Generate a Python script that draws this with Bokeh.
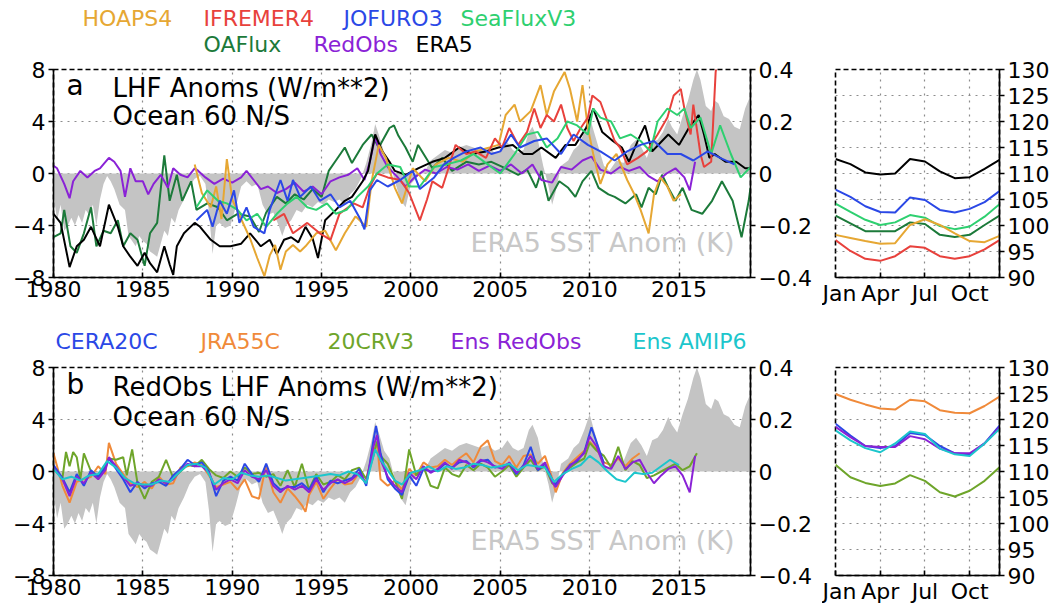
from bokeh.plotting import figure
from bokeh.models import Range1d, LinearAxis, FixedTicker, CustomJSTickFormatter, Label, ColumnDataSource
from bokeh.core.properties import value
from bokeh.layouts import row, column
from bokeh.embed import file_html
from bokeh.resources import INLINE

FONT = "DejaVu Sans"

# ---------------- data ----------------
sst_year = [1980.0, 1980.2, 1980.4, 1980.6, 1980.8, 1981.0, 1981.2, 1981.4, 1981.6, 1981.8, 1982.0, 1982.2,
            1982.4, 1982.6, 1982.8, 1983.0, 1983.2, 1983.4, 1983.7, 1984.0, 1984.2, 1984.4, 1984.6, 1984.8,
            1985.0, 1985.2, 1985.4, 1985.6, 1985.8, 1986.0, 1986.2, 1986.4, 1986.6, 1986.8, 1987.0, 1987.3,
            1987.6, 1987.9, 1988.2, 1988.5, 1988.7, 1988.9, 1989.1, 1989.3, 1989.6, 1989.9, 1990.2, 1990.5,
            1990.8, 1991.1, 1991.4, 1991.7, 1992.0, 1992.3, 1992.6, 1992.8, 1993.0, 1993.3, 1993.6, 1993.9,
            1994.2, 1994.5, 1994.8, 1995.1, 1995.4, 1995.7, 1996.0, 1996.3, 1996.6, 1996.9, 1997.2, 1997.5,
            1997.8, 1998.0, 1998.2, 1998.5, 1998.8, 1999.1, 1999.4, 1999.7, 2000.0, 2000.4, 2000.8, 2001.1,
            2001.5, 2001.9, 2002.3, 2002.7, 2003.1, 2003.5, 2003.9, 2004.3, 2004.7, 2005.1, 2005.4, 2005.7,
            2006.0, 2006.3, 2006.6, 2006.8, 2007.1, 2007.4, 2007.7, 2007.9, 2008.1, 2008.4, 2008.8, 2009.1,
            2009.4, 2009.7, 2010.0, 2010.2, 2010.5, 2010.8, 2011.1, 2011.5, 2011.9, 2012.3, 2012.6, 2012.9,
            2013.2, 2013.5, 2013.8, 2014.1, 2014.4, 2014.6, 2014.9, 2015.2, 2015.5, 2015.8, 2016.0, 2016.2,
            2016.5, 2016.8, 2017.0, 2017.2, 2017.5, 2017.8, 2018.1, 2018.4, 2018.7, 2019.0]
sst_anom = [-0.08, -0.18, -0.12, -0.22, -0.2, -0.17, -0.2, -0.16, -0.19, -0.14, -0.16, -0.12,
            -0.2, -0.1, -0.04, -0.01, -0.03, -0.06, -0.12, -0.14, -0.24, -0.26, -0.28, -0.24,
            -0.26, -0.27, -0.3, -0.31, -0.32, -0.27, -0.22, -0.24, -0.17, -0.19, -0.14, -0.1,
            -0.05, -0.02, -0.01, -0.04, -0.15, -0.31, -0.2, -0.19, -0.21, -0.2, -0.13, -0.05,
            -0.03, -0.05, -0.04, -0.12, -0.16, -0.15, -0.2, -0.24, -0.2, -0.18, -0.14, -0.15,
            -0.12, -0.13, -0.11, -0.12, -0.1, -0.11, -0.1, -0.12, -0.08, -0.06, -0.02, 0.04,
            0.12, 0.19, 0.15, 0.08, 0.05, -0.03, -0.1, -0.13, -0.04, -0.01, 0.01, 0.05,
            0.07, 0.09, 0.08, 0.1, 0.11, 0.1, 0.09, 0.1, 0.08, 0.09, 0.12, 0.09,
            0.08, 0.09, 0.16, 0.18, 0.13, 0.03, -0.05, -0.12, -0.07, 0.03, 0.05, 0.09,
            0.11, 0.16, 0.22, 0.17, 0.1, 0.03, 0.01, 0.05, 0.04, 0.11, 0.13, 0.1,
            0.06, 0.12, 0.13, 0.16, 0.21, 0.18, 0.15, 0.22, 0.28, 0.36, 0.4, 0.36,
            0.26, 0.24, 0.28, 0.27, 0.22, 0.21, 0.18, 0.17, 0.25, 0.3]

era5_year = [1980.0, 1980.4, 1980.9, 1981.3, 1981.7, 1982.1, 1982.6, 1983.1, 1983.6, 1983.9, 1984.3, 1984.7,
             1985.1, 1985.4, 1985.8, 1986.2, 1986.5, 1986.7, 1986.9, 1987.3, 1987.9, 1988.2, 1988.8, 1989.3,
             1989.9, 1990.5, 1991.0, 1991.6, 1992.1, 1992.5, 1992.9, 1993.3, 1993.7, 1994.1, 1994.5, 1994.8,
             1995.2, 1995.8, 1996.3, 1996.7, 1997.3, 1997.6, 1998.0, 1998.4, 1998.8, 1999.1, 1999.7, 2000.4,
             2001.2, 2001.9, 2002.7, 2003.4, 2004.2, 2004.9, 2005.7, 2006.3, 2006.8, 2007.3, 2008.1, 2008.65,
             2009.2, 2009.8, 2010.2, 2010.7, 2011.3, 2011.8, 2012.2, 2012.75, 2013.1, 2013.5, 2014.05, 2014.4,
             2015.0, 2015.55, 2016.1, 2016.4, 2016.7, 2017.0, 2017.6, 2018.2, 2018.7, 2019.0]
era5 = [-3.1, -3.8, -7.2, -5.6, -5.1, -4.1, -5.6, -2.4, -4.1, -5.6, -6.4, -7.1,
        -6.1, -6.9, -7.6, -5.6, -7.0, -7.8, -5.6, -4.6, -3.8, -4.1, -5.1, -5.6,
        -5.6, -5.4, -4.6, -5.6, -5.1, -6.2, -5.1, -4.9, -5.3, -4.1, -5.0, -6.5,
        -3.6, -2.8, -2.1, -1.8, -0.6, 0.2, 3.0, 1.7, 0.9, 0.2, -0.1, 0.4,
        0.9, 1.2, 2.0, 1.5, 1.7, 2.0, 2.2, 1.5, 1.5, 2.0, 1.2, 2.2,
        2.2, 3.5, 5.0, 3.2, 2.5, 2.0, 0.9, 2.7, 3.7, 1.7, 2.5, 3.0,
        2.2, 3.5, 4.5, 3.0, 1.2, 1.5, 0.9, 0.9, 0.4, 0.4]

oaflux_year = [1980.0, 1980.4, 1980.6, 1980.95, 1981.3, 1981.7, 1982.1, 1982.4, 1982.8, 1983.2, 1983.6, 1983.9,
               1984.3, 1984.7, 1985.1, 1985.4, 1985.8, 1986.2, 1986.5, 1986.9, 1987.2, 1987.7, 1988.0, 1988.6,
               1989.2, 1989.7, 1990.3, 1991.0, 1991.5, 1991.9, 1992.5, 1993.0, 1993.5, 1994.0, 1994.5, 1995.0,
               1995.4, 1995.8, 1996.3, 1996.7, 1997.3, 1997.8, 1998.2, 1998.8, 1999.05, 1999.3, 1999.7, 2000.1,
               2000.4, 2001.2, 2001.75, 2002.3, 2003.1, 2003.8, 2004.5, 2005.3, 2006.0, 2006.5, 2007.0, 2007.3,
               2007.7, 2008.3, 2008.8, 2009.2, 2009.6, 2010.1, 2010.5, 2011.05, 2011.4, 2012.0, 2012.6, 2012.9,
               2013.3, 2013.7, 2014.05, 2014.4, 2014.8, 2015.2, 2015.7, 2016.3, 2016.85, 2017.4, 2018.0, 2018.5,
               2018.9, 2019.0]
oaflux = [-4.9, -4.6, -2.8, -5.6, -6.1, -4.6, -2.6, -5.6, -4.4, -4.6, -3.6, -5.6,
          -4.6, -5.1, -7.1, -4.6, -3.8, 1.4, -2.1, -0.1, -2.1, -0.6, -2.8, -2.3,
          -2.6, -3.6, -3.1, -3.3, -4.5, -3.0, -1.8, -2.3, -1.6, -2.0, -1.2, -1.8,
          0.2, 1.0, 2.0, 0.8, 2.2, 3.0, 2.0, 3.5, 3.7, 2.9, 2.0, 0.9,
          2.2, 0.4, 1.2, 0.2, 0.9, 0.7, 0.9, 0.4, -0.1, 0.3, -1.1, 0.2,
          -2.1, -0.6, -1.1, -1.8, -0.6, 0.2, -1.1, -1.6, -1.8, -2.3, -1.6, -2.6,
          -1.1, -1.6, -0.1, -1.1, -2.1, -1.1, -2.8, -3.1, -2.1, -0.6, -2.1, -4.9,
          -2.1, -1.1]

hoaps_year = [1987.9, 1988.3, 1988.8, 1989.1, 1989.4, 1989.7, 1990.0, 1990.5, 1991.0, 1991.4, 1991.8, 1992.1,
              1992.4, 1992.7, 1993.0, 1993.4, 1993.8, 1994.1, 1994.7, 1995.2, 1995.8, 1996.3, 1996.9, 1997.5,
              1997.8, 1998.2, 1998.6, 1999.1, 1999.5, 2000.1, 2000.8, 2001.4, 2002.1, 2002.9, 2003.6, 2004.4,
              2004.9, 2005.3, 2005.8, 2006.1, 2006.7, 2007.25, 2007.6, 2008.0, 2008.6, 2008.9, 2009.3, 2009.6,
              2009.9, 2010.2, 2010.6, 2011.0, 2011.5, 2012.1, 2012.5, 2012.85, 2013.3, 2013.6, 2013.95, 2014.35,
              2014.7, 2015.1]
hoaps = [0.7, -1.5, -2.6, -1.0, -3.5, 1.1, -2.0, -3.5, -5.0, -6.5, -7.9, -6.3,
         -5.5, -7.4, -6.0, -5.5, -6.0, -5.6, -4.6, -4.4, -5.9, -4.6, -3.3, -4.1,
         -0.6, 2.2, 1.2, -1.1, -2.3, 0.4, -0.6, 0.7, 1.2, 0.9, 1.7, 2.0,
         2.2, 4.5, 5.3, 4.0, 4.8, 6.8, 4.5, 6.3, 7.8, 6.5, 4.0, 6.8,
         3.5, 1.5, -0.8, 0.7, 1.5, -0.5, -1.6, -2.8, -4.6, -1.6, -0.3, -1.0,
         -2.1, -1.6]

ifremer_year = [1992.3, 1992.9, 1993.4, 1994.2, 1994.9, 1995.5, 1996.0, 1996.8, 1997.3, 1997.7, 1998.1, 1998.7,
                1999.4, 1999.9, 2000.5, 2000.9, 2001.2, 2001.75, 2002.1, 2002.5, 2003.1, 2003.6, 2004.2, 2004.7,
                2005.1, 2005.5, 2006.0, 2006.5, 2006.9, 2007.25, 2007.6, 2008.0, 2008.4, 2008.75, 2009.1, 2009.5,
                2009.9, 2010.15, 2010.6, 2011.0, 2011.4, 2011.7, 2012.1, 2012.7, 2013.2, 2013.8, 2014.35, 2014.7,
                2015.1, 2015.3, 2015.65, 2015.8, 2016.2, 2016.4, 2016.8, 2017.05, 2017.25]
ifremer = [-3.6, -3.1, -4.6, -3.8, -4.6, -5.1, -3.1, -2.3, -2.6, -1.0, 0.0, -0.3,
           -0.5, -1.5, -3.6, -2.0, -0.6, -1.1, 0.4, 2.2, 1.5, 1.7, 1.2, 2.7,
           2.0, 3.5, 2.2, 3.2, 5.0, 3.5, 4.5, 4.0, 5.3, 3.5, 2.5, 3.5,
           4.3, 6.0, 5.5, 4.0, 2.5, 2.0, 0.7, 1.2, 1.7, 3.0, 4.3, 6.0,
           6.5, 5.0, 3.0, 5.3, 1.5, 0.5, 0.9, 7.8, 9.5]

jofuro_year = [1988.0, 1988.6, 1988.9, 1989.3, 1989.7, 1990.1, 1990.4, 1990.8, 1991.2, 1991.8, 1992.1, 1992.7,
               1993.1, 1993.4, 1993.8, 1994.4, 1994.9, 1995.5, 1996.0, 1996.6, 1997.2, 1997.4, 1997.7, 1998.1,
               1998.7, 1999.4, 2000.1, 2000.5, 2001.3, 2001.85, 2002.4, 2003.1, 2003.9, 2004.5, 2005.0, 2005.6,
               2006.1, 2006.9, 2007.6, 2008.4, 2009.1, 2009.9, 2010.6, 2011.4, 2012.1, 2012.85, 2013.6, 2014.35,
               2015.1, 2015.8, 2016.6, 2017.3, 2018.1]
jofuro = [-3.6, -2.8, -4.1, -2.1, -3.1, -1.3, -3.8, -2.6, -4.1, -4.6, -2.8, -0.5,
          -2.1, -0.5, -1.8, -1.0, -2.1, -1.6, -2.6, -2.1, -3.6, -4.3, -1.3, -0.5,
          -1.0, -0.5, 0.2, -1.2, -0.3, 0.7, 1.2, 1.7, 2.0, 1.5, 1.7, 3.0,
          2.0, 2.5, 2.7, 1.5, 3.0, 2.2, 1.7, 1.0, 1.7, 2.2, 2.5, 1.5,
          1.5, 1.0, 1.7, 1.2, 0.7]

seaflux_year = [1988.0, 1988.6, 1989.2, 1989.7, 1990.3, 1990.8, 1991.4, 1991.9, 1992.5, 1993.1, 1993.6, 1994.2,
                1994.7, 1995.3, 1995.8, 1996.4, 1997.0, 1997.6, 1998.1, 1998.7, 1999.4, 1999.9, 2000.5, 2001.3,
                2002.0, 2002.8, 2003.5, 2004.3, 2005.0, 2005.8, 2006.5, 2007.1, 2007.6, 2008.2, 2008.75, 2009.3,
                2009.9, 2010.2, 2010.6, 2011.2, 2011.7, 2012.3, 2012.85, 2013.4, 2013.8, 2014.35, 2014.9, 2015.3,
                2015.65, 2016.2, 2016.8, 2017.3, 2017.9, 2018.45, 2019.0]
seaflux = [-2.6, -1.3, -2.1, -2.3, -2.8, -3.6, -3.1, -4.1, -3.1, -2.3, -1.8, -2.6,
           -2.8, -2.3, -3.1, -2.8, -1.8, -1.0, 0.0, 0.7, 0.5, -1.0, -1.0, 0.5,
           0.7, 1.0, 1.5, 0.7, 0.0, 1.5, 3.0, 3.2, 2.0, 2.7, 4.0, 3.7,
           3.0, 5.0, 4.3, 4.0, 2.7, 3.0, 2.5, 1.7, 4.0, 5.0, 4.5, 5.0,
           3.5, 4.3, 1.5, 3.7, 1.5, -0.3, 0.5]

redobs_year = [1980.0, 1980.2, 1980.6, 1980.9, 1981.1, 1981.5, 1981.9, 1982.3, 1982.6, 1983.1, 1983.4, 1983.75,
               1984.0, 1984.3, 1984.6, 1985.0, 1985.3, 1985.6, 1986.0, 1986.4, 1986.7, 1987.1, 1987.5, 1987.9,
               1988.1, 1988.5, 1989.0, 1989.5, 1990.0, 1990.5, 1990.8, 1991.2, 1991.6, 1992.0, 1992.5, 1993.0,
               1993.5, 1994.0, 1994.5, 1995.0, 1995.5, 1996.0, 1996.5, 1997.0, 1997.4, 1997.7, 1998.0, 1998.3,
               1998.7, 1999.2, 1999.7, 2000.2, 2000.8, 2001.4, 2002.0, 2002.6, 2003.2, 2003.8, 2004.4, 2005.0,
               2005.6, 2006.2, 2006.8, 2007.3, 2007.9, 2008.4, 2009.0, 2009.6, 2010.1, 2010.6, 2011.2, 2011.7,
               2012.2, 2012.8, 2013.3, 2013.8, 2014.3, 2014.8, 2015.3, 2015.6, 2015.9]
redobs = [0.6, 0.4, -0.8, -1.9, -0.6, 0.2, -0.3, 0.2, 0.4, 1.2, 0.9, 0.2,
          -1.8, 0.4, -0.6, -0.6, -1.6, -0.8, -0.1, -1.1, 0.4, -0.1, -0.3, 0.4,
          0.2, -0.3, -0.8, -0.4, -0.7, -0.3, 0.2, -0.5, -1.2, -1.0, -1.5, -1.2,
          -0.7, -1.4, -1.0, -1.6, -0.6, -0.3, -0.1, 0.4, -0.5, 0.9, 2.8, 1.5,
          0.5, -0.2, -1.0, -0.3, 0.3, 0.0, 0.5, 0.3, 0.7, 0.2, 0.6, 0.2,
          0.7, 0.0, 0.7, -0.5, -0.7, 0.5, 0.3, 1.0, 1.3, 0.3, 0.0, 0.5,
          0.2, 0.5, -0.2, -0.6, 0.0, 0.4, -0.3, -1.3, 0.9]

# panel b
b_year = [1980.0, 1980.5, 1980.9, 1981.3, 1981.7, 1982.1, 1982.5, 1982.9, 1983.1, 1983.5, 1983.9, 1984.3,
          1984.7, 1985.1, 1985.5, 1985.9, 1986.3, 1986.7, 1987.1, 1987.5, 1987.9, 1988.3, 1988.7, 1989.1,
          1989.5, 1989.9, 1990.3, 1990.7, 1991.1, 1991.5, 1991.9, 1992.3, 1992.7, 1993.1, 1993.5, 1993.9,
          1994.3, 1994.7, 1995.1, 1995.5, 1995.9, 1996.3, 1996.7, 1997.1, 1997.5, 1997.9, 1998.1, 1998.3,
          1998.7, 1999.1, 1999.5, 1999.9, 2000.3, 2000.7, 2001.1, 2001.5, 2001.9, 2002.3, 2002.7, 2003.1,
          2003.5, 2003.9, 2004.3, 2004.7, 2005.1, 2005.5, 2005.9, 2006.3, 2006.7, 2007.1, 2007.5, 2007.9,
          2008.1, 2008.5, 2008.9, 2009.3, 2009.7, 2010.0, 2010.4, 2010.8, 2011.2, 2011.6, 2012.0, 2012.4,
          2012.8, 2013.2, 2013.6, 2014.0, 2014.4, 2014.8, 2015.2, 2015.6, 2015.9]
ens_redobs = [0.3, -0.6, -1.9, -0.4, -0.9, -0.1, -0.6, 0.1, 1.1, 0.4, -0.4, -1.1,
              -0.9, -1.1, -1.1, -0.6, -0.9, -0.6, 0.1, 0.6, 0.4, 0.4, -0.1, -1.4,
              -0.9, -0.6, -0.9, 0.1, -0.4, -0.6, 0.1, -1.1, -1.6, -1.1, -1.4, -1.1,
              -1.6, -0.6, -1.4, -0.9, -0.6, -0.9, -0.6, -0.1, -0.9, 1.9, 2.8, 0.9,
              -0.4, -1.1, -1.6, -0.1, -0.6, 0.4, -0.1, 0.2, 0.7, 0.2, 0.9, 0.7,
              0.4, 0.9, 0.7, 0.4, 0.2, 0.7, -0.1, 0.4, 1.2, 0.2, 0.7, -0.8,
              -1.2, -0.3, 0.4, 0.9, 1.4, 2.7, 1.9, 0.4, 0.2, 1.2, 0.2, 0.7,
              0.9, -0.1, -0.9, -0.3, 0.2, 0.4, -0.3, -1.6, 1.2]

cera_year = b_year[:45] + [1997.9, 1998.05, 1998.3, 1998.7, 1999.1, 1999.5, 1999.9, 2000.3, 2000.7, 2001.1,
                           2001.5, 2001.9, 2002.3, 2002.7, 2003.1, 2003.5, 2003.9, 2004.3, 2004.7, 2005.1,
                           2005.5, 2005.9, 2006.3, 2006.7, 2007.1, 2007.5, 2007.9, 2008.1, 2008.5, 2008.9,
                           2009.3, 2009.7, 2010.1, 2010.4, 2010.8]
cera20c = [0.5, -0.5, -1.6, -0.2, -1.1, 0.1, -0.4, 0.3, 1.0, 0.2, -0.6, -1.6,
           -0.8, -1.3, -0.9, -0.8, -1.1, -0.3, 0.2, 0.9, 0.5, 0.7, 0.0, -1.9,
           -0.7, -0.4, -0.7, 0.6, -0.2, -0.8, 0.6, -0.9, -1.4, -1.2, -1.2, -0.9,
           -1.4, -0.4, -1.6, -0.7, -0.9, -0.7, -0.5, 0.2, -1.1,
           2.4, 3.5, 1.4, -0.6, -1.3, -1.8, -0.3, -1.1, 0.2, 0.0,
           0.1, 0.6, 0.3, 0.7, 0.8, 0.3, 0.8, 0.9, 0.3, 0.4,
           0.6, -0.2, 0.5, 1.9, 0.1, 0.6, -0.6, -1.0, -0.2, 0.5,
           0.8, 1.5, 3.4, 2.2, 0.6]

jra_year = [1980.0, 1980.5, 1980.9, 1981.3, 1981.7, 1982.1, 1982.5, 1982.9, 1983.1, 1983.5, 1983.9, 1984.3,
            1984.7, 1985.1, 1985.5, 1985.9, 1986.3, 1986.7, 1987.1, 1987.5, 1987.9, 1988.3, 1988.7, 1989.1,
            1989.5, 1989.9, 1990.3, 1990.7, 1991.1, 1991.5, 1991.9, 1992.3, 1992.7, 1993.1, 1993.5, 1993.9,
            1994.1, 1994.3, 1994.7, 1995.1, 1995.5, 1995.9, 1996.3, 1996.7, 1997.1, 1997.5, 1997.9, 1998.1,
            1998.3, 1998.7, 1999.1, 1999.5, 1999.9, 2000.3, 2000.7, 2001.1, 2001.5, 2001.9, 2002.3, 2002.7,
            2003.1, 2003.5, 2003.9, 2004.3, 2004.7, 2005.1, 2005.5, 2005.9, 2006.3, 2006.7, 2007.1, 2007.5,
            2007.9, 2008.1, 2008.5, 2008.9, 2009.3, 2009.7, 2010.0, 2010.4, 2010.8, 2011.2, 2011.6, 2012.0,
            2012.4, 2012.8]
jra55c = [1.4, -1.1, -2.4, -0.8, -0.6, -0.4, 0.4, -0.2, 2.2, 0.6, -0.2, -0.9,
          -1.2, -0.8, -1.3, -0.4, -1.0, -0.9, 0.3, 0.4, 0.7, 0.5, -0.3, -1.2,
          -1.0, -0.8, -1.4, -0.6, -1.9, -2.1, 0.5, -1.6, -2.4, -1.3, -1.9, -2.6,
          -3.1, -1.8, -0.8, -2.1, -1.3, -0.6, -1.0, -0.9, -0.1, -0.5, 1.5, 2.2,
          -0.6, -1.1, -0.7, -1.4, 0.2, -0.3, 0.7, 0.3, 0.4, 0.9, 0.5, 1.0,
          1.4, 0.7, 1.9, 2.4, 0.8, 0.5, 1.2, 0.3, 1.2, 1.3, 0.6, 1.2,
          -0.5, -1.6, -0.1, 0.6, 1.1, 1.6, 2.3, 1.7, 0.7, 0.5, 1.0, 0.4,
          1.0, 1.4]

crv_year = [1980.0, 1980.5, 1980.7, 1980.9, 1981.1, 1981.3, 1981.5, 1981.7, 1982.1, 1982.5, 1982.9, 1983.1,
            1983.5, 1983.9, 1984.1, 1984.4, 1984.7, 1985.1, 1985.5, 1985.9, 1986.3, 1986.7, 1987.1, 1987.5,
            1987.9, 1988.3, 1988.7, 1989.1, 1989.5, 1989.9, 1990.3, 1990.7, 1991.1, 1991.5, 1991.9, 1992.3,
            1992.7, 1993.1, 1993.5, 1993.9, 1994.3, 1994.7, 1995.1, 1995.5, 1995.9, 1996.3, 1996.7, 1997.1,
            1997.5, 1997.9, 1998.1, 1998.3, 1998.7, 1999.1, 1999.5, 1999.9, 2000.3, 2000.7, 2001.1, 2001.5,
            2001.9, 2002.3, 2002.7, 2003.1, 2003.5, 2003.9, 2004.3, 2004.7, 2005.1, 2005.5, 2005.9, 2006.3,
            2006.7, 2007.1, 2007.5, 2007.9, 2008.1, 2008.5, 2008.9, 2009.3, 2009.7, 2010.0, 2010.4, 2010.8,
            2011.2, 2011.6, 2012.0, 2012.4, 2012.8, 2013.2, 2013.6, 2014.0, 2014.4, 2014.8, 2015.2, 2015.6,
            2016.0]
crv3 = [0.2, -0.5, 1.5, 0.4, 1.5, 1.1, -0.6, 1.4, 0.0, -0.5, 0.5, 1.0,
        0.9, 1.1, -0.3, 1.7, -0.9, -2.1, -0.8, -0.4, 0.9, -0.5, 0.0, 0.5,
        0.4, 0.9, 0.2, -0.3, -0.5, 0.0, -0.4, 0.3, -0.2, -0.1, -0.4, -0.2,
        -1.1, 0.1, -1.2, 0.6, -1.4, -0.2, -1.0, -0.8, -0.3, -0.6, 0.1, 0.3,
        -0.6, 1.2, 2.3, 1.2, 0.6, -0.7, -2.1, 1.7, -0.3, 0.4, -1.1, -1.3,
        0.3, -0.2, -0.4, 0.5, 0.1, 0.6, 0.3, -0.4, 0.0, 0.5, -0.4, 0.3,
        0.9, 0.1, 0.4, -0.9, -1.0, -0.2, 0.3, 0.7, 1.0, 2.2, 1.6, 1.2,
        0.3, 1.9, 0.1, 0.8, 0.5, -0.5, -0.3, 0.0, 0.3, 0.6, 0.1, 0.4,
        1.4]

amip_year = [1980.0, 1980.5, 1981.0, 1981.5, 1982.0, 1982.5, 1983.0, 1983.5, 1984.0, 1984.5, 1985.0, 1985.5,
             1986.0, 1986.5, 1987.0, 1987.5, 1988.0, 1988.5, 1989.0, 1989.5, 1990.0, 1990.5, 1991.0, 1991.5,
             1992.0, 1992.5, 1993.0, 1993.5, 1994.0, 1994.5, 1995.0, 1995.5, 1996.0, 1996.5, 1997.0, 1997.5,
             1998.0, 1998.3, 1998.7, 1999.1, 1999.5, 2000.0, 2000.5, 2001.0, 2001.5, 2002.0, 2002.5, 2003.0,
             2003.5, 2004.0, 2004.5, 2005.0, 2005.5, 2006.0, 2006.5, 2007.0, 2007.5, 2008.0, 2008.5, 2009.0,
             2009.5, 2010.0, 2010.5, 2011.0, 2011.5, 2012.0, 2012.5, 2013.0, 2013.5, 2014.0, 2014.5, 2015.0]
ens_amip6 = [0.2, -0.6, -0.4, -0.7, -0.3, -0.2, 0.8, 0.3, -0.5, -0.9, -1.0, -1.0,
             -0.7, -0.8, -0.1, 0.5, 0.6, 0.3, -1.0, -0.5, -0.6, -0.1, -0.3, -0.4,
             -0.3, -0.5, -0.7, -0.6, -0.5, -0.4, -0.3, -0.2, -0.3, 0.0, -0.2, -0.9,
             1.7, 0.9, 0.1, -0.7, -1.0, -0.1, 0.1, 0.4, 0.0, 0.4, 0.2, 0.3,
             0.6, 0.5, 0.3, 0.4, 0.6, 0.1, 0.5, 0.4, 0.3, -0.8, -0.2, 0.2,
             0.5, 1.2, 0.7, 0.0, -0.6, -0.8, -0.1, -0.2, -0.1, 0.4, 0.9, 0.5]

# seasonal cycles (W/m**2)
months = [1, 2, 3, 4, 5, 6, 7, 8, 9, 10, 11, 12]
month_ticks = {1: "Jan", 4: "Apr", 7: "Jul", 10: "Oct"}
clim_era5 = [112.8, 111.8, 110.2, 109.8, 110.0, 112.8, 112.3, 110.4, 109.1, 109.3, 110.9, 112.6]
clim_jofuro = [106.9, 105.5, 103.7, 102.6, 102.5, 105.4, 104.9, 103.0, 102.5, 103.2, 104.5, 106.6]
clim_seaflux = [104.2, 102.6, 101.1, 100.1, 100.6, 102.0, 101.5, 99.9, 99.3, 99.8, 101.7, 104.1]
clim_oaflux = [101.9, 100.4, 98.9, 98.9, 98.9, 100.6, 100.3, 98.2, 97.8, 98.2, 100.1, 101.9]
clim_hoaps = [98.2, 97.6, 97.0, 96.5, 96.6, 100.1, 101.2, 100.1, 98.5, 97.0, 96.8, 98.0]
clim_ifremer = [97.2, 95.1, 93.6, 93.2, 94.1, 96.0, 95.7, 94.1, 93.6, 94.1, 95.4, 97.2]
clim_jra = [124.9, 123.8, 122.9, 122.1, 121.9, 123.8, 123.5, 121.8, 121.3, 121.2, 122.6, 124.4]
clim_cera = [119.2, 116.9, 114.9, 114.5, 114.9, 117.4, 117.0, 114.9, 113.5, 113.3, 115.4, 118.8]
clim_ensredobs = [118.6, 116.6, 114.9, 114.7, 114.7, 116.8, 116.2, 114.4, 113.5, 113.5, 115.4, 118.5]
clim_amip = [117.9, 116.0, 114.5, 113.7, 115.4, 117.7, 117.2, 114.4, 113.3, 113.0, 115.4, 118.2]
clim_crv3 = [111.3, 108.9, 107.8, 107.2, 107.7, 109.3, 108.2, 106.0, 105.2, 106.3, 108.2, 110.8]

year_ticks = [1980, 1985, 1990, 1995, 2000, 2005, 2010, 2015]
lhf_ticks = [-8, -4, 0, 4, 8]
sst_ticks = [-0.4, -0.2, 0, 0.2, 0.4]
clim_ticks = [90, 95, 100, 105, 110, 115, 120, 125, 130]

legend_a_names = ["HOAPS4", "IFREMER4", "JOFURO3", "SeaFluxV3", "OAFlux", "RedObs", "ERA5"]
legend_b_names = ["CERA20C", "JRA55C", "20CRV3", "Ens RedObs", "Ens AMIP6"]

# colours
C_HOAPS = "#E6A733"
C_IFREMER = "#E8413C"
C_JOFURO = "#2B48E6"
C_SEAFLUX = "#2ED070"
C_OAFLUX = "#1C7A3A"
C_REDOBS = "#8A22D6"
C_ERA5 = "#000000"
C_CERA = "#2B48E6"
C_JRA = "#F08A3A"
C_CRV3 = "#6EA52A"
C_AMIP = "#1CC6CC"
C_FILL = "#C4C4C4"

MINUS = CustomJSTickFormatter(code="return tick < 0 ? '\u2212' + String(Math.abs(tick)) : String(tick);")

W_TS, W_CL = 822, 232


def style_axis(ax, tick_in=0, tick_out=5):
    ax.axis_line_color = "black"
    ax.axis_line_width = 1.6
    ax.major_tick_line_color = "black"
    ax.major_tick_line_width = 1.6
    ax.major_tick_in = tick_in
    ax.major_tick_out = tick_out
    ax.minor_tick_line_color = None
    ax.major_label_text_font = FONT
    ax.major_label_text_font_size = "22px"
    ax.major_label_text_color = "black"
    ax.major_label_standoff = 3


def style_frame(p):
    p.outline_line_color = "black"
    p.outline_line_width = 1.6
    p.outline_line_dash = "5 3"
    p.background_fill_color = "white"
    p.border_fill_color = "white"
    for g in (p.xgrid, p.ygrid):
        g.grid_line_color = "#8c8c8c"
        g.grid_line_dash = "2 5"
        g.grid_line_width = 1.2


def ts_figure(height, top, bottom):
    p = figure(width=W_TS, height=height, x_range=Range1d(1980, 2019), y_range=Range1d(-8, 8),
               output_backend="svg", toolbar_location=None,
               min_border_left=53, min_border_right=W_TS - 53 - 697, min_border_top=top, min_border_bottom=bottom)
    p.extra_y_ranges = {"sst": Range1d(-0.4, 0.4)}
    p.xaxis.ticker = FixedTicker(ticks=year_ticks)
    p.yaxis.ticker = FixedTicker(ticks=lhf_ticks)
    p.yaxis.formatter = MINUS
    style_axis(p.xaxis[0], tick_in=5, tick_out=0)
    style_axis(p.yaxis[0], tick_in=0, tick_out=5)
    ax = LinearAxis(y_range_name="sst", ticker=FixedTicker(ticks=sst_ticks), formatter=MINUS)
    style_axis(ax, tick_in=0, tick_out=5)
    p.add_layout(ax, "right")
    style_frame(p)
    p.varea(x=sst_year, y1=0, y2=sst_anom, fill_color=C_FILL, y_range_name="sst")
    return p


def clim_figure(height, top, bottom):
    p = figure(width=W_CL, height=height, x_range=Range1d(1, 12), y_range=Range1d(90, 130),
               output_backend="svg", toolbar_location=None, y_axis_location="right",
               min_border_left=13, min_border_right=W_CL - 13 - 164, min_border_top=top, min_border_bottom=bottom)
    p.xaxis.ticker = FixedTicker(ticks=list(month_ticks.keys()))
    p.xaxis.major_label_overrides = month_ticks
    p.yaxis.ticker = FixedTicker(ticks=clim_ticks)
    style_axis(p.xaxis[0], tick_in=5, tick_out=0)
    style_axis(p.yaxis[0], tick_in=0, tick_out=5)
    style_frame(p)
    return p


def strip(height, xs, ys, names, colors):
    width = W_TS + W_CL
    s = figure(width=width, height=height, x_range=Range1d(0, width), y_range=Range1d(0, height),
               output_backend="svg", toolbar_location=None, x_axis_location=None, y_axis_location=None,
               min_border=0)
    s.outline_line_color = None
    s.grid.visible = False
    s.border_fill_color = "white"
    src = ColumnDataSource(dict(x=xs, y=ys, text=names, color=colors))
    s.text(x="x", y="y", text="text", text_color="color", source=src, text_font=value(FONT),
           text_font_size="22px", text_baseline="middle", text_align="left")
    return s


def lab(p, x, y, text, color="black", size="22px"):
    p.add_layout(Label(x=x, y=y, x_units="screen", y_units="screen", text=text, text_color=color,
                       text_font=FONT, text_font_size=size, text_baseline="middle", text_align="left"))


LW = 2

# ---------------- legend strip a ----------------
SA_H = 58
sa = strip(SA_H, [82, 203, 343, 460, 203, 313, 415], [40, 40, 40, 40, 14, 14, 14], legend_a_names,
           [C_HOAPS, C_IFREMER, C_JOFURO, C_SEAFLUX, C_OAFLUX, C_REDOBS, C_ERA5])

# ---------------- panel a ----------------
TOP_H, TOP_T, TOP_B = 250, 11, 28
pa = ts_figure(TOP_H, TOP_T, TOP_B)
fa = TOP_H - TOP_T - TOP_B
pa.line(oaflux_year, oaflux, line_color=C_OAFLUX, line_width=LW)
pa.line(redobs_year, redobs, line_color=C_REDOBS, line_width=LW)
pa.line(era5_year, era5, line_color=C_ERA5, line_width=LW)
pa.line(hoaps_year, hoaps, line_color=C_HOAPS, line_width=LW)
pa.line(ifremer_year, ifremer, line_color=C_IFREMER, line_width=LW)
pa.line(seaflux_year, seaflux, line_color=C_SEAFLUX, line_width=LW)
pa.line(jofuro_year, jofuro, line_color=C_JOFURO, line_width=LW)

lab(pa, 13, fa - 19, "a", size="28px")
lab(pa, 59, fa - 21, "LHF Anoms (W/m**2)", size="26px")
lab(pa, 59, fa - 49, "Ocean 60 N/S", size="26px")
lab(pa, 417, 35, "ERA5 SST Anom (K)", "#C8C8C8", size="27px")

ca = clim_figure(TOP_H, TOP_T, TOP_B)
ca.line(months, clim_era5, line_color=C_ERA5, line_width=LW)
ca.line(months, clim_jofuro, line_color=C_JOFURO, line_width=LW)
ca.line(months, clim_seaflux, line_color=C_SEAFLUX, line_width=LW)
ca.line(months, clim_oaflux, line_color=C_OAFLUX, line_width=LW)
ca.line(months, clim_hoaps, line_color=C_HOAPS, line_width=LW)
ca.line(months, clim_ifremer, line_color=C_IFREMER, line_width=LW)

# ---------------- legend strip b ----------------
SB_H = 48
sb = strip(SB_H, [55, 200, 327, 450, 632], [15, 15, 15, 15, 15], legend_b_names,
           [C_CERA, C_JRA, C_CRV3, C_REDOBS, C_AMIP])

# ---------------- panel b ----------------
BOT_H, BOT_T, BOT_B = 250, 11, 27
pb = ts_figure(BOT_H, BOT_T, BOT_B)
fb = BOT_H - BOT_T - BOT_B
pb.line(jra_year, jra55c, line_color=C_JRA, line_width=LW)
pb.line(crv_year, crv3, line_color=C_CRV3, line_width=LW)
pb.line(cera_year, cera20c, line_color=C_CERA, line_width=LW)
pb.line(b_year, ens_redobs, line_color=C_REDOBS, line_width=LW)
pb.line(amip_year, ens_amip6, line_color=C_AMIP, line_width=LW)

lab(pb, 13, fb - 21, "b", size="28px")
lab(pb, 59, fb - 23, "RedObs LHF Anoms (W/m**2)", size="26px")
lab(pb, 59, fb - 53, "Ocean 60 N/S", size="26px")
lab(pb, 417, 35, "ERA5 SST Anom (K)", "#C8C8C8", size="27px")

cb = clim_figure(BOT_H, BOT_T, BOT_B)
cb.line(months, clim_jra, line_color=C_JRA, line_width=LW)
cb.line(months, clim_crv3, line_color=C_CRV3, line_width=LW)
cb.line(months, clim_cera, line_color=C_CERA, line_width=LW)
cb.line(months, clim_ensredobs, line_color=C_REDOBS, line_width=LW)
cb.line(months, clim_amip, line_color=C_AMIP, line_width=LW)

layout = column(sa, row(pa, ca), sb, row(pb, cb))
open("out.html", "w").write(file_html(layout, INLINE))
